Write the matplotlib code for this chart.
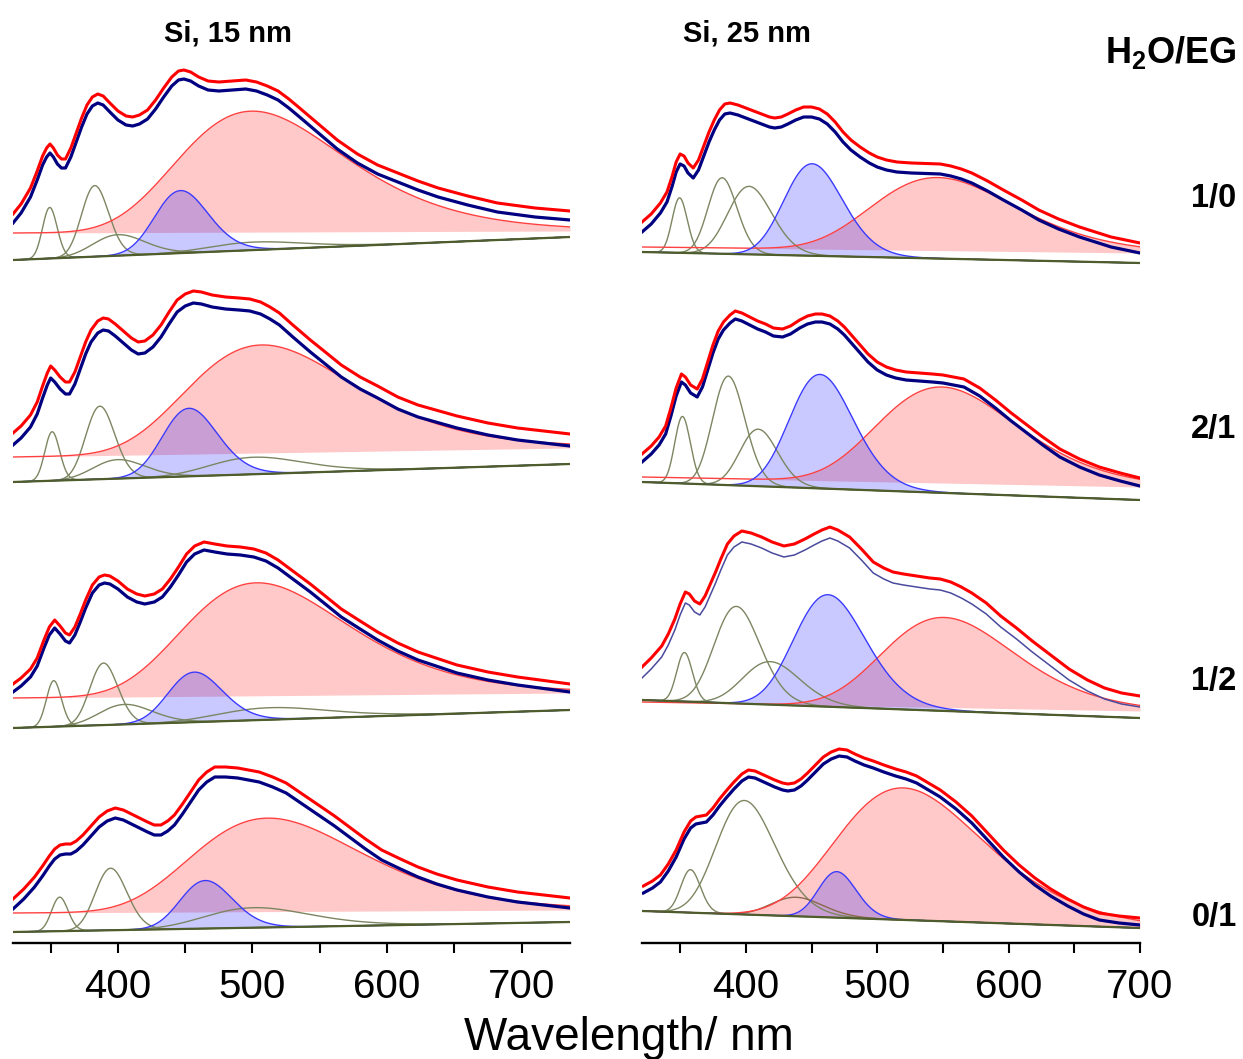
import numpy as np
import matplotlib.pyplot as plt
from matplotlib.ticker import MultipleLocator

plt.rcParams['font.family'] = ['Liberation Sans', 'DejaVu Sans']
plt.rcParams['mathtext.fontset'] = 'custom'
plt.rcParams['mathtext.bf'] = 'Liberation Sans:bold'
plt.rcParams['mathtext.rm'] = 'Liberation Sans'

# ---------------- data ----------------
titles = ['Si, 15 nm', 'Si, 25 nm']
ratios = ['1/0', '2/1', '1/2', '0/1']

# fitted total spectra (wavelength nm, intensity above the row baseline start)
wl_15_10 = [322, 328, 335, 340, 344, 347, 349.5, 352, 355, 358, 361, 365, 369, 373, 377, 381, 385, 389, 394, 400,
            406, 411, 416, 422, 428, 434, 440, 445, 449, 454, 460, 467, 475, 485, 495, 503, 511, 519, 527, 535,
            549, 563, 578, 593, 608, 623, 638, 660, 682, 710, 736]
fit_15_10 = [37, 47, 63, 80, 95, 103, 107, 103, 96, 92, 92, 103, 118, 133, 146, 154, 157, 155, 148, 140,
             135, 134, 136, 141, 151, 163, 174, 180, 181, 179, 174, 170, 169, 170, 171, 169, 165, 160, 152, 143,
             127, 111, 97, 86, 78, 70, 63, 55, 48, 43, 40]
wl_15_21 = [322, 328, 335, 340, 344, 347.5, 350, 353, 357, 361, 364, 368, 372, 376, 380, 385, 389, 393, 398, 404,
            410, 415, 420, 426, 432, 438, 444, 450, 456, 462, 470, 480, 490, 498, 506, 513, 520, 530, 543, 555,
            566, 580, 593, 608, 623, 652, 675, 697, 736]
fit_15_21 = [37, 44, 55, 68, 84, 97, 104, 100, 93, 88, 88, 98, 113, 128, 140, 149, 152, 151, 146, 139,
             132, 128, 129, 135, 145, 158, 170, 176, 179, 178, 175, 173, 172, 171, 168, 163, 157, 145, 130, 117,
             105, 93, 84, 73, 65, 54, 47, 42, 36]
wl_15_12 = [322, 328, 335, 340, 345, 349, 353, 357, 361, 364, 368, 372, 376, 381, 386, 390, 394, 400, 407, 414,
            420, 427, 433, 439, 445, 451, 457, 464, 472, 481, 491, 501, 510, 519, 530, 543, 555, 566, 580, 593,
            608, 623, 652, 675, 697, 736]
fit_15_12 = [36, 42, 51, 62, 80, 93, 100, 94, 87, 85, 93, 106, 120, 135, 143, 145, 144, 139, 131, 126,
             124, 126, 131, 141, 153, 166, 174, 178, 176, 174, 173, 171, 167, 160, 149, 136, 123, 111, 99, 88,
             77, 68, 55, 48, 43, 36]
wl_15_01 = [322, 330, 338, 344, 349, 353, 357, 361, 365, 369, 374, 380, 386, 392, 398, 404, 410, 416, 422, 427,
            432, 437, 442, 448, 454, 460, 466, 472, 480, 489, 497, 505, 515, 525, 537, 549, 561, 572, 584, 596,
            610, 623, 637, 652, 675, 697, 736]
fit_15_01 = [23, 33, 45, 56, 66, 73, 77, 78, 78, 81, 87, 96, 105, 111, 114, 112, 108, 104, 100, 97,
             97, 101, 107, 118, 130, 142, 150, 155, 155, 154, 152, 150, 145, 139, 128, 117, 106, 95, 83, 72,
             63, 55, 48, 42, 35, 30, 24]

wl_25_10 = [321, 328, 335, 340, 344, 347, 350, 353, 356, 360, 364, 368, 372, 376, 380, 384, 388, 394, 400, 406,
            412, 418, 422, 427, 432, 438, 444, 450, 456, 462, 468, 474, 480, 487, 494, 500, 507, 515, 526, 537,
            548, 556, 564, 572, 584, 596, 610, 623, 638, 654, 666, 678, 700]
fit_25_10 = [20, 28, 39, 50, 66, 80, 88, 86, 79, 74, 82, 96, 110, 122, 132, 138, 139, 137, 134, 131,
             128, 125, 124, 125, 128, 132, 135, 135, 133, 128, 120, 110, 102, 95, 89, 85, 82, 80, 79, 78.5,
             78, 76, 73, 69, 61, 52, 42, 32, 23, 15, 10, 5, -1]
wl_25_21 = [321, 328, 334, 339, 343, 347, 351, 354, 358, 363, 367, 371, 375, 379, 383, 388, 392, 397, 403, 409,
            415, 421, 428, 434, 441, 447, 453, 458, 464, 470, 475, 481, 487, 493, 500, 507, 514, 522, 532, 542,
            550, 558, 566, 578, 590, 602, 614, 626, 639, 654, 669, 685, 700]
fit_25_21 = [20, 28, 37, 48, 66, 86, 100, 97, 89, 85, 95, 112, 129, 143, 152, 159, 163, 161, 157, 153,
             150, 146, 145, 148, 154, 158, 160, 160, 158, 153, 147, 138, 129, 120, 112, 107, 104, 102, 101, 100,
             99, 97, 95, 86, 74, 61, 49, 37, 25, 15, 7, 1, -4]
wl_25_12 = [321, 328, 336, 341, 346, 350, 354, 357, 361, 365, 369, 373, 377, 381, 386, 391, 397, 404, 412, 420,
            429, 437, 445, 452, 458, 464, 470, 479, 488, 497, 505, 512, 520, 530, 540, 548, 556, 564, 572, 583,
            594, 606, 618, 632, 646, 660, 673, 686, 700]
fit_25_12 = [22, 31, 43, 55, 70, 85, 97, 95, 88, 85, 93, 105, 117, 130, 145, 153, 158, 156, 152, 147,
             143, 145, 150, 155, 159, 162, 159, 152, 140, 127, 121, 117, 115, 113, 111, 110, 107, 102, 96, 86,
             73, 61, 48, 34, 20, 9, 1, -4, -7]
wl_25_01 = [322, 329, 335, 341, 347, 353, 358, 362, 366, 370, 375, 380, 385, 391, 397, 402, 407, 412, 417, 422,
            428, 432, 437, 442, 447, 453, 459, 465, 471, 477, 483, 490, 497, 505, 514, 522, 530, 539, 548, 560,
            572, 584, 596, 608, 620, 632, 645, 657, 669, 684, 700]
fit_25_01 = [18, 23, 29, 40, 54, 72, 83, 87, 88, 89, 96, 105, 113, 122, 130, 134, 133, 130, 127, 124,
             121, 120, 121, 125, 131, 139, 147, 152, 155, 154, 150, 146, 143, 139, 135, 132, 128, 121, 114, 102,
             88, 71, 54, 39, 26, 15, 5, -3, -9, -12, -14]

# linear baseline (start, end) and base level of the red component (start, end)
base_15 = [(0, 23), (0, 18), (0, 18), (0, 10)]
redbase_15 = [(27, 29), (25, 34), (30, 35), (19, 22)]
base_25 = [(0, -11), (0, -18), (0, -18), (0, -17)]
redbase_25 = [(5, -1), (5, -5), (-2, -11), (0, -17)]

# fitted components: (centre nm, FWHM eV, height)
red_15 = [(500, 0.72, 121), (507, 0.70, 108), (503.5, 0.70, 113), (511.7, 0.70, 93.5)]
blue_15 = [(446.5, 0.29, 62.5), (452.8, 0.29, 68), (456.8, 0.28, 50), (465, 0.26, 48)]
green_15 = [
    [(349.3, 0.13, 51), (382.8, 0.20, 71), (400, 0.35, 21), (501, 0.40, 8)],
    [(351.1, 0.13, 49), (386.6, 0.21, 73), (400, 0.35, 19), (501, 0.40, 17)],
    [(352.3, 0.13, 46), (389.3, 0.20, 62), (405, 0.35, 20), (513, 0.45, 12)],
    [(356.7, 0.14, 34), (394.6, 0.22, 62), (501, 0.45, 20)],
]
red_25 = [(546, 0.53, 73), (549, 0.51, 96), (550.6, 0.48, 90), (520, 0.60, 132)]
blue_25 = [(450.5, 0.32, 92), (456.5, 0.34, 114), (462.6, 0.37, 112), (469.3, 0.19, 46)]
green_25 = [
    [(349.6, 0.137, 55), (382, 0.22, 76), (402.5, 0.30, 68)],
    [(351.8, 0.14, 67), (386.7, 0.24, 109), (409.5, 0.25, 57)],
    [(353.3, 0.14, 49), (392.8, 0.33, 97), (418.6, 0.36, 43)],
    [(357.9, 0.17, 43), (398.9, 0.41, 114), (438.3, 0.30, 19)],
]

# ---------------- layout / style ----------------
W, H = 1243, 1059
row_off = [[683, 461, 215, 11], [691, 461, 243, 32]]   # vertical stacking
red_shift = [[9, 12, 8, 10], [10, 8, 11, 7]]          # measured curve shown above the fit
fit_lw = [[2.3, 2.3, 2.3, 2.3], [2.3, 2.3, 1.1, 2.3]]
fit_col = [['#000080'] * 4, ['#000080', '#000080', '#4a4a9e', '#000080']]
green_col = '#7c8661'
brown_col = '#8a6a4c'   # last small band in the 25 nm / 0/1 fit
xlims = [(322, 736), (321, 700)]
ax_px = [(13, 570), (642, 1140)]
spine_y = 943

panels = [
    (list(zip([wl_15_10, wl_15_21, wl_15_12, wl_15_01], [fit_15_10, fit_15_21, fit_15_12, fit_15_01])),
     base_15, redbase_15, red_15, blue_15, green_15),
    (list(zip([wl_25_10, wl_25_21, wl_25_12, wl_25_01], [fit_25_10, fit_25_21, fit_25_12, fit_25_01])),
     base_25, redbase_25, red_25, blue_25, green_25),
]


def band(x, c, fwhm, h):
    # gaussian band in energy space
    return h * np.exp(-4 * np.log(2) * ((1240 / x - 1240 / c) / fwhm) ** 2)


fig = plt.figure(figsize=(W / 100, H / 100), dpi=100)

for p, (fits, bases, rbases, reds, blues, greens) in enumerate(panels):
    x0, x1 = ax_px[p]
    ax = fig.add_axes([x0 / W, (H - spine_y) / H, (x1 - x0) / W, spine_y / H])
    lo, hi = xlims[p]
    x = np.linspace(lo, hi, 900)
    for r in range(4):
        off = row_off[p][r]
        base = off + np.interp(x, [lo, hi], bases[r])
        rbase = off + np.interp(x, [lo, hi], rbases[r])
        red = rbase + band(x, *reds[r])
        blue = base + band(x, *blues[r])
        ax.fill_between(x, rbase, red, color='red', alpha=0.21, lw=0)
        ax.fill_between(x, base, blue, color='blue', alpha=0.21, lw=0)
        for k, g in enumerate(greens[r]):
            c = brown_col if (p == 1 and r == 3 and k == 2) else green_col
            ax.plot(x, base + band(x, *g), color=c, lw=1.0)
        ax.plot(x, red, color='#ff4040', lw=1.0)
        ax.plot(x, blue, color='#3a3aff', lw=1.0)
        ax.plot([lo, hi], [off + bases[r][0], off + bases[r][1]], color='#4f5d2c', lw=1.6)
        wl, fit = fits[r]
        fit = np.array(fit, dtype=float) + off
        ax.plot(wl, fit, color=fit_col[p][r], lw=fit_lw[p][r], solid_joinstyle='round')
        ax.plot(wl, fit + red_shift[p][r], color='#ff0000', lw=2.2, solid_joinstyle='round')

    ax.set_xlim(lo, hi)
    ax.set_ylim(0, spine_y)
    for s in ['left', 'right', 'top']:
        ax.spines[s].set_visible(False)
    ax.spines['bottom'].set_linewidth(1.7)
    ax.set_yticks([])
    ax.xaxis.set_major_locator(MultipleLocator(100))
    ax.xaxis.set_minor_locator(MultipleLocator(50))
    ax.tick_params(axis='x', which='both', direction='out', length=7, width=1.5)
    ax.tick_params(axis='x', which='major', labelsize=29, pad=11)
    ax.patch.set_alpha(0)


def ftext(xp, yp, s, **kw):
    fig.text(xp / W, 1 - yp / H, s, **kw)


ftext(228, 42, titles[0], ha='center', va='baseline', fontsize=21, fontweight='bold')
ftext(747, 42, titles[1], ha='center', va='baseline', fontsize=21, fontweight='bold')
ftext(1171, 63, r'$\mathbf{H_2O/EG}$', ha='center', va='baseline', fontsize=26)
for lab, yb in zip(ratios, [207, 438, 690, 926]):
    ftext(1214, yb, lab, ha='center', va='baseline', fontsize=23.5, fontweight='bold')
ftext(629, 1050, 'Wavelength/ nm', ha='center', va='baseline', fontsize=33)

fig.savefig('out.png', dpi=100)
